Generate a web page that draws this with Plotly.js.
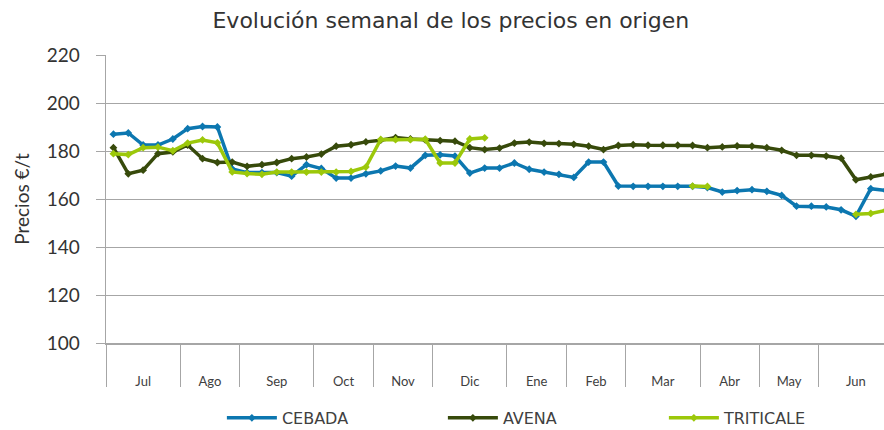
<!DOCTYPE html>
<html>
<head>
<meta charset="utf-8">
<script src="https://cdn.plot.ly/plotly-3.0.1.min.js"></script>
<style>html,body{margin:0;padding:0;background:#fff;}#chart{width:884px;height:430px;}</style>
</head>
<body>
<div id="chart"></div>
<script>
// Month groups (category axis labels) and number of weeks in each
const months = ['Jul','Ago','Sep','Oct','Nov','Dic','Ene','Feb','Mar','Abr','May','Jun'];
const weeksPerMonth = [5,4,5,4,4,5,4,4,5,4,4,5];

// Weekly prices (€/t)
const cebada = [187.0,187.5,182.5,182.5,185.0,189.3,190.2,190.0,172.5,171.0,
                171.0,171.0,169.5,174.3,172.7,168.7,168.7,170.5,171.7,173.7,
                172.9,178.2,178.4,177.9,170.8,172.9,172.9,175.0,172.4,171.2,
                170.3,169.0,175.4,175.4,165.4,165.3,165.3,165.3,165.3,165.3,
                164.8,162.9,163.5,163.9,163.2,161.5,157.0,157.0,156.7,155.5,
                152.8,164.3,163.6];
const avena  = [181.4,170.5,172.0,178.9,179.6,182.5,176.8,175.2,175.4,173.6,
                174.3,175.2,176.8,177.5,178.7,182.0,182.6,183.8,184.5,185.6,
                185.0,184.6,184.3,184.1,181.4,180.6,181.2,183.3,183.7,183.2,
                183.1,182.8,182.0,180.6,182.3,182.6,182.4,182.4,182.4,182.3,
                181.4,181.7,182.1,182.0,181.4,180.3,178.2,178.2,177.9,177.0,
                168.0,169.2,170.3];
const triticale = [178.9,178.5,181.4,181.6,180.1,183.3,184.6,183.4,171.3,170.6,
                170.3,171.2,171.2,171.2,171.2,171.2,171.5,173.3,184.8,184.7,
                184.7,184.9,175.0,175.0,185.0,185.5,null,null,null,null,
                null,null,null,null,null,null,null,null,null,165.4,
                165.2,null,null,null,null,null,null,null,null,null,
                153.6,154.0,155.2];
const seriesNames = ['CEBADA','AVENA','TRITICALE'];
const yTicks = [100,120,140,160,180,200,220];

// Derived week positions / month centres / month boundaries
const weeks = cebada.map((_, i) => i);
const monthCenters = [], monthBounds = [];
let start = 0;
weeksPerMonth.forEach(n => { monthBounds.push(start - 0.5); monthCenters.push(start + (n - 1) / 2); start += n; });

const colors = ['#0C77B0', '#374A0B', '#9CC80A'];
const FONT = 'Lato, "Liberation Sans", sans-serif';
const WIDE = '"DejaVu Sans", sans-serif';
const xRange = [-0.5, 51.89];

const traces = [cebada, avena, triticale].map((ys, k) => ({
  x: weeks, y: ys, name: seriesNames[k], type: 'scatter', mode: 'lines+markers',
  connectgaps: false,
  line: {color: colors[k], width: 3.5},
  marker: {symbol: 'diamond', size: 6, color: colors[k]},
  hoverinfo: 'x+y+name'
}));
traces.push({x: monthBounds, y: monthBounds.map(() => null), xaxis: 'x2', yaxis: 'y',
  mode: 'lines', showlegend: false, hoverinfo: 'skip'});

const layout = {
  width: 884, height: 430,
  margin: {l: 106, r: 0, t: 55, b: 87},
  paper_bgcolor: '#fff', plot_bgcolor: '#fff',
  font: {family: FONT, color: '#404040'},
  title: {text: 'Evolución semanal de los precios en origen', font: {family: WIDE, size: 22, color: '#333'},
          x: 0.51, xref: 'container', xanchor: 'center', y: 0.953, yref: 'container', yanchor: 'middle'},
  xaxis: {range: xRange, tickmode: 'array', tickvals: monthCenters, ticktext: months,
          ticks: 'outside', ticklen: 26, tickcolor: 'rgba(0,0,0,0)', showgrid: false, zeroline: false,
          showline: true, linecolor: '#A6A6A6', linewidth: 1.5, tickfont: {size: 13, color: '#404040'}},
  xaxis2: {range: xRange, overlaying: 'x', side: 'bottom', tickmode: 'array', tickvals: monthBounds,
           ticks: 'outside', ticklen: 43, tickcolor: '#A6A6A6', tickwidth: 1, showticklabels: false,
           showgrid: false, zeroline: false, showline: false},
  yaxis: {range: [100, 220], tickmode: 'array', tickvals: yTicks, showgrid: true, gridcolor: '#A6A6A6',
          gridwidth: 1, zeroline: false, showline: true, linecolor: '#A6A6A6', linewidth: 1.5,
          ticks: 'outside', ticklen: 9, tickcolor: '#A6A6A6', ticklabelstandoff: 12,
          tickfont: {size: 19, color: '#333'},
          title: {text: 'Precios €/t', font: {size: 19, color: '#333'}, standoff: 12}},
  showlegend: true,
  legend: {orientation: 'h', x: 0.251, xanchor: 'left', xref: 'container', y: 0.028, yref: 'container',
           yanchor: 'middle', font: {family: WIDE, size: 16, color: '#404040'}, itemwidth: 50,
           entrywidth: 156, traceorder: 'normal'}
};

Plotly.newPlot('chart', traces, layout, {displayModeBar: false, staticPlot: true});
</script>
</body>
</html>
